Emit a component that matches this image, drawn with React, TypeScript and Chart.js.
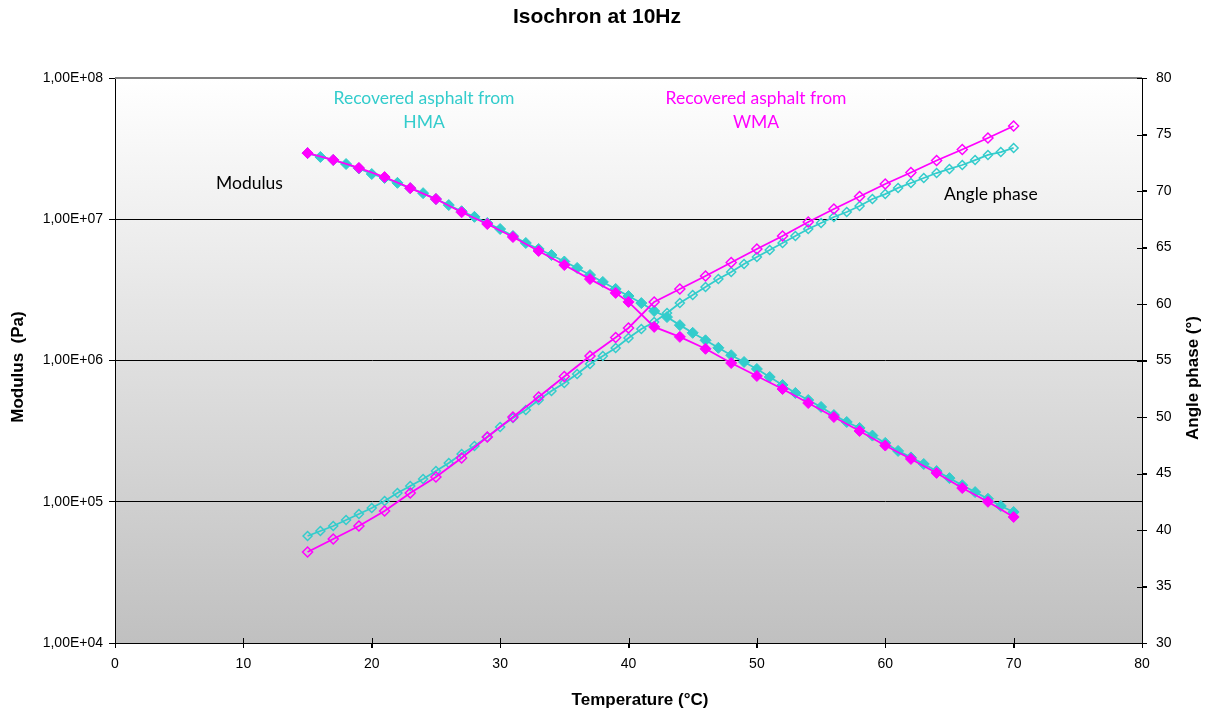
import React, { useEffect, useRef } from 'react';
import { Chart, registerables } from 'chart.js';

Chart.register(...registerables);

// ---------- DATA ----------
const hmaTemps = [15, 16, 17, 18, 19, 20, 21, 22, 23, 24, 25, 26, 27, 28, 29, 30, 31, 32, 33, 34, 35, 36, 37, 38, 39, 40, 41, 42, 43, 44, 45, 46, 47, 48, 49, 50, 51, 52, 53, 54, 55, 56, 57, 58, 59, 60, 61, 62, 63, 64, 65, 66, 67, 68, 69, 70];
const hmaModulus = [2.94e7, 2.76e7, 2.63e7, 2.46e7, 2.29e7, 2.09e7, 1.96e7, 1.81e7, 1.66e7, 1.53e7, 1.39e7, 1.26e7, 1.14e7, 1.04e7, 9.41e6, 8.53e6, 7.61e6, 6.79e6, 6.16e6, 5.58e6, 5.02e6, 4.52e6, 4.03e6, 3.6e6, 3.21e6, 2.86e6, 2.55e6, 2.24e6, 2.03e6, 1.78e6, 1.57e6, 1.39e6, 1.23e6, 1.09e6, 9.76e5, 8.71e5, 7.64e5, 6.71e5, 5.89e5, 5.25e5, 4.69e5, 4.11e5, 3.67e5, 3.33e5, 2.94e5, 2.61e5, 2.29e5, 2.06e5, 1.85e5, 1.65e5, 1.47e5, 1.31e5, 1.17e5, 1.05e5, 9.33e4, 8.46e4];
const hmaPhase = [39.47, 39.91, 40.35, 40.88, 41.42, 41.95, 42.57, 43.27, 43.89, 44.51, 45.22, 45.93, 46.73, 47.43, 48.23, 49.12, 49.91, 50.62, 51.5, 52.3, 53.01, 53.81, 54.69, 55.4, 56.11, 56.99, 57.79, 58.41, 59.2, 60.09, 60.8, 61.5, 62.21, 62.83, 63.54, 64.16, 64.78, 65.4, 66.02, 66.64, 67.17, 67.7, 68.14, 68.67, 69.29, 69.73, 70.27, 70.71, 71.15, 71.59, 71.95, 72.3, 72.74, 73.19, 73.45, 73.81];

const wmaTemps = [15, 17, 19, 21, 23, 25, 27, 29, 31, 33, 35, 37, 39, 40, 42, 44, 46, 48, 50, 52, 54, 56, 58, 60, 62, 64, 66, 68, 70];
const wmaModulus = [2.94e7, 2.63e7, 2.31e7, 1.99e7, 1.66e7, 1.39e7, 1.12e7, 9.25e6, 7.48e6, 5.96e6, 4.74e6, 3.77e6, 3.01e6, 2.6e6, 1.73e6, 1.47e6, 1.21e6, 9.6e5, 7.77e5, 6.28e5, 5.0e5, 3.98e5, 3.17e5, 2.5e5, 2.01e5, 1.6e5, 1.25e5, 1.0e5, 7.8e4];
const wmaPhase = [38.05, 39.2, 40.35, 41.68, 43.27, 44.69, 46.37, 48.23, 50.0, 51.77, 53.58, 55.4, 57.04, 57.88, 60.18, 61.33, 62.48, 63.67, 64.87, 66.02, 67.26, 68.41, 69.51, 70.62, 71.64, 72.7, 73.67, 74.69, 75.75];

const modulusTicks = [1e4, 1e5, 1e6, 1e7, 1e8];

const titleText = 'Isochron at 10Hz';
const xTitle = 'Temperature (°C)';
const yTitle = 'Modulus  (Pa)';
const y1Title = 'Angle phase (°)';
const hmaLabel = ['Recovered asphalt from', 'HMA'];
const wmaLabel = ['Recovered asphalt from', 'WMA'];
const modulusNote = 'Modulus';
const phaseNote = 'Angle phase';

const CYAN = '#33CCCC';
const MAGENTA = '#FF00FF';
const FONT = "'Liberation Sans', Arial, sans-serif";
const NOTE_FONT = "Lato, 'Open Sans', sans-serif";

const pts = (xs: number[], ys: number[]) => xs.map((x, i) => ({ x, y: ys[i] }));

const fmtSci = (v: number) => {
  const e = Math.round(Math.log10(v));
  const m = v / Math.pow(10, e);
  return m.toFixed(2).replace('.', ',') + 'E+' + String(e).padStart(2, '0');
};

const decorPlugin = {
  id: 'decor',
  beforeDraw(chart: any) {
    const { ctx, chartArea: a } = chart;
    ctx.save();
    ctx.fillStyle = '#ffffff';
    ctx.fillRect(0, 0, chart.width, chart.height);
    const g = ctx.createLinearGradient(0, a.top, 0, a.bottom);
    g.addColorStop(0, '#ffffff');
    g.addColorStop(1, '#c0c0c0');
    ctx.fillStyle = g;
    ctx.fillRect(a.left, a.top, a.right - a.left, a.bottom - a.top);
    ctx.restore();
  },
  afterDraw(chart: any) {
    const { ctx, chartArea: a, scales } = chart;
    ctx.save();
    // top border
    ctx.strokeStyle = '#808080';
    ctx.lineWidth = 2;
    ctx.beginPath();
    ctx.moveTo(a.left, a.top);
    ctx.lineTo(a.right, a.top);
    ctx.stroke();
    // cross tick marks on right axis and x axis
    ctx.strokeStyle = '#000';
    ctx.lineWidth = 1;
    ctx.beginPath();
    scales.y1.ticks.forEach((t: any) => {
      const py = Math.round(scales.y1.getPixelForValue(t.value)) + 0.5;
      ctx.moveTo(a.right - 5, py);
      ctx.lineTo(a.right + 5, py);
    });
    scales.x.ticks.forEach((t: any) => {
      const px = Math.round(scales.x.getPixelForValue(t.value)) + 0.5;
      ctx.moveTo(px, a.bottom - 5);
      ctx.lineTo(px, a.bottom + 5);
    });
    ctx.stroke();

    // texts
    ctx.textBaseline = 'middle';
    ctx.textAlign = 'center';
    ctx.fillStyle = '#000';
    ctx.font = `bold 21px ${FONT}`;
    ctx.fillText(titleText, 597, 17);
    ctx.font = `bold 17px ${FONT}`;
    ctx.fillText(xTitle, 640, 700);

    ctx.save();
    ctx.translate(18, 367);
    ctx.rotate(-Math.PI / 2);
    ctx.fillText(yTitle, 0, 0);
    ctx.restore();

    ctx.save();
    ctx.translate(1193, 378);
    ctx.rotate(-Math.PI / 2);
    ctx.fillText(y1Title, 0, 0);
    ctx.restore();

    ctx.font = `17.5px ${NOTE_FONT}`;
    ctx.fillStyle = CYAN;
    ctx.fillText(hmaLabel[0], 424, 98);
    ctx.fillText(hmaLabel[1], 424, 122);
    ctx.fillStyle = MAGENTA;
    ctx.fillText(wmaLabel[0], 756, 98);
    ctx.fillText(wmaLabel[1], 756, 122);
    ctx.fillStyle = '#000';
    ctx.textAlign = 'left';
    ctx.fillText(modulusNote, 216, 183);
    ctx.fillText(phaseNote, 944, 194);
    ctx.restore();
  },
};

export default function App() {
  const ref = useRef<HTMLCanvasElement>(null);
  useEffect(() => {
    if (!ref.current) return;
    Chart.defaults.font.family = FONT;
    const chart = new Chart(ref.current, {
      type: 'line',
      data: {
        datasets: [
          {
            label: 'WMA modulus',
            data: pts(wmaTemps, wmaModulus),
            yAxisID: 'y',
            borderColor: MAGENTA,
            backgroundColor: MAGENTA,
            pointBackgroundColor: MAGENTA,
            pointBorderColor: MAGENTA,
            pointStyle: 'rectRot',
            pointRadius: 5.5,
            borderWidth: 1.8,
            pointBorderWidth: 1,
            order: 0,
          },
          {
            label: 'WMA phase',
            data: pts(wmaTemps, wmaPhase),
            yAxisID: 'y1',
            borderColor: MAGENTA,
            backgroundColor: 'rgba(0,0,0,0)',
            pointBackgroundColor: 'rgba(0,0,0,0)',
            pointBorderColor: MAGENTA,
            pointStyle: 'rectRot',
            pointRadius: 5,
            borderWidth: 1.8,
            pointBorderWidth: 1.5,
            order: 1,
          },
          {
            label: 'HMA modulus',
            data: pts(hmaTemps, hmaModulus),
            yAxisID: 'y',
            borderColor: CYAN,
            backgroundColor: CYAN,
            pointBackgroundColor: CYAN,
            pointBorderColor: CYAN,
            pointStyle: 'rectRot',
            pointRadius: 5.5,
            borderWidth: 1.8,
            pointBorderWidth: 1,
            order: 2,
          },
          {
            label: 'HMA phase',
            data: pts(hmaTemps, hmaPhase),
            yAxisID: 'y1',
            borderColor: CYAN,
            backgroundColor: 'rgba(0,0,0,0)',
            pointBackgroundColor: 'rgba(0,0,0,0)',
            pointBorderColor: CYAN,
            pointStyle: 'rectRot',
            pointRadius: 4.5,
            borderWidth: 1.8,
            pointBorderWidth: 1.5,
            order: 3,
          },
        ],
      },
      options: {
        responsive: false,
        animation: false,
        layout: { padding: { top: 78, left: 0, right: 0, bottom: 0 } },
        plugins: { legend: { display: false }, title: { display: false }, tooltip: { enabled: false } },
        scales: {
          x: {
            type: 'linear',
            min: 0,
            max: 80,
            ticks: { stepSize: 10, color: '#000', font: { size: 14 }, padding: 8, maxRotation: 0 },
            grid: { drawOnChartArea: false, drawTicks: true, tickLength: 5, tickColor: '#000' },
            border: { display: true, color: '#000', width: 1 },
            afterFit: (s: any) => { s.height = 70; },
          },
          y: {
            type: 'logarithmic',
            position: 'left',
            min: 1e4,
            max: 1e8,
            afterBuildTicks: (s: any) => { s.ticks = modulusTicks.map((v) => ({ value: v })); },
            ticks: { color: '#000', font: { size: 14 }, padding: 6, callback: (v: any) => fmtSci(Number(v)) },
            grid: {
              color: (c: any) => (c.tick && (c.tick.value === 1e8 || c.tick.value === 1e4) ? 'rgba(0,0,0,0)' : '#000'),
              lineWidth: 1,
              tickLength: 6,
              tickColor: '#000',
            },
            border: { display: true, color: '#000', width: 1 },
            afterFit: (s: any) => { s.width = 115; },
          },
          y1: {
            type: 'linear',
            position: 'right',
            min: 30,
            max: 80,
            ticks: { stepSize: 5, color: '#000', font: { size: 14 }, padding: 9 },
            grid: { drawOnChartArea: false, tickLength: 5, tickColor: '#000' },
            border: { display: true, color: '#000', width: 1 },
            afterFit: (s: any) => { s.width = 69; },
          },
        },
      },
      plugins: [decorPlugin],
    } as any);
    return () => chart.destroy();
  }, []);
  return (
    <div style={{ position: 'absolute', left: 0, top: 0, width: 1211, height: 713 }}>
      <canvas ref={ref} width={1211} height={713} style={{ display: 'block' }} />
    </div>
  );
}
